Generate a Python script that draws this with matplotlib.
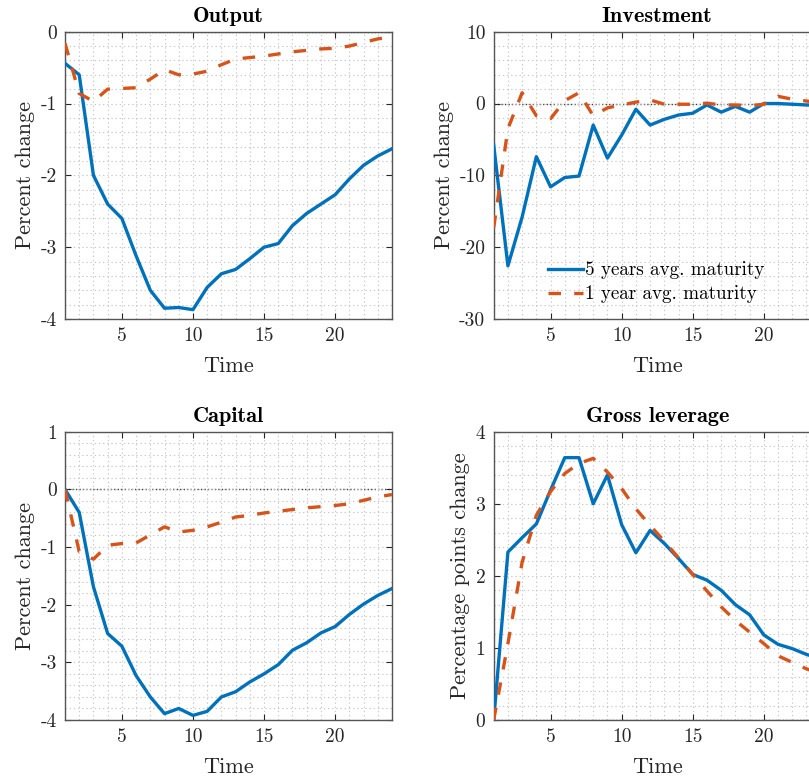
import numpy as np
import matplotlib
matplotlib.use("Agg")
import matplotlib.pyplot as plt
from matplotlib.ticker import MultipleLocator

plt.rcParams.update({
    "font.family": "serif",
    "font.serif": ["cmr10"],
    "axes.unicode_minus": False,
    "axes.formatter.use_mathtext": False,
    "mathtext.fontset": "cm",
    "lines.scale_dashes": False,
})

periods = list(range(1, 25))

output_5y = [-0.44, -0.60, -2.00, -2.40, -2.60, -3.12, -3.60, -3.85, -3.84, -3.87,
             -3.56, -3.37, -3.31, -3.16, -3.00, -2.95, -2.70, -2.53, -2.40, -2.27,
             -2.05, -1.86, -1.73, -1.63]
output_1y = [-0.16, -0.86, -0.97, -0.80, -0.79, -0.78, -0.66, -0.53, -0.60, -0.59,
             -0.55, -0.46, -0.38, -0.36, -0.34, -0.31, -0.28, -0.26, -0.24, -0.23,
             -0.20, -0.15, -0.10, -0.07]

invest_5y = [-5.8, -22.6, -15.8, -7.4, -11.6, -10.3, -10.1, -3.0, -7.6, -4.4,
             -0.8, -3.0, -2.2, -1.6, -1.35, -0.2, -1.2, -0.4, -1.2, 0.0,
             0.0, -0.1, -0.2, -0.25]
invest_1y = [-17.3, -3.5, 1.5, -1.7, -2.1, 0.4, 1.5, -1.7, -0.6, -0.2,
             0.2, 0.5, -0.1, -0.1, -0.1, 0.05, -0.2, -0.2, -0.3, -0.1,
             1.0, 0.6, 0.35, 0.1]

capital_5y = [0.0, -0.40, -1.69, -2.50, -2.72, -3.23, -3.60, -3.89, -3.80, -3.92,
              -3.85, -3.60, -3.51, -3.34, -3.20, -3.04, -2.79, -2.66, -2.49, -2.38,
              -2.17, -1.99, -1.84, -1.72]
capital_1y = [0.0, -1.08, -1.21, -0.97, -0.94, -0.93, -0.79, -0.65, -0.74, -0.71,
              -0.65, -0.57, -0.48, -0.45, -0.41, -0.38, -0.35, -0.32, -0.30, -0.28,
              -0.25, -0.19, -0.13, -0.09]

leverage_5y = [0.0, 2.33, 2.53, 2.72, 3.19, 3.64, 3.64, 3.00, 3.40, 2.71,
               2.32, 2.63, 2.45, 2.24, 2.02, 1.94, 1.80, 1.60, 1.46, 1.18,
               1.05, 0.99, 0.91, 0.85]
leverage_1y = [0.0, 1.06, 2.19, 2.84, 3.17, 3.42, 3.56, 3.63, 3.44, 3.21,
               2.93, 2.70, 2.48, 2.25, 2.02, 1.79, 1.57, 1.38, 1.22, 1.06,
               0.89, 0.80, 0.71, 0.64]

titles = ["Output", "Investment", "Capital", "Gross leverage"]
ylabels = ["Percent change", "Percent change", "Percent change", "Percentage points change"]
ylims = [(-4, 0), (-30, 10), (-4, 1), (0, 4)]
ymajor = [1, 10, 1, 1]
yminor = [0.2, 2, 0.2, 0.2]
series = [(output_5y, output_1y), (invest_5y, invest_1y),
          (capital_5y, capital_1y), (leverage_5y, leverage_1y)]
legend_labels = ["5 years avg. maturity", "1 year avg. maturity"]

BLUE = "#0072BD"
ORANGE = "#D95319"
TXT = "#262626"

W, H = 809, 778
fig = plt.figure(figsize=(W / 100, H / 100), dpi=100)

# panel boxes in pixel units: left, top, width, height
boxes = [(65, 31.7, 327, 287.3), (493.7, 31.7, 327, 287.3),
         (65, 431.7, 327, 288.3), (493.7, 431.7, 327, 288.3)]

for i, (l, t, w, h) in enumerate(boxes):
    ax = fig.add_axes([l / W, 1 - (t + h) / H, w / W, h / H])
    y5, y1 = series[i]
    ax.axhline(0, color="#404040", lw=1.0, ls=(0, (1, 1.5)), zorder=1)
    l5, = ax.plot(periods, y5, color=BLUE, lw=2.4, zorder=3)
    l1, = ax.plot(periods, y1, color=ORANGE, lw=2.4, ls=(0, (9, 9.5)), zorder=3)
    ax.set_xlim(1, 24)
    ax.set_ylim(*ylims[i])
    ax.xaxis.set_major_locator(MultipleLocator(5))
    ax.xaxis.set_minor_locator(MultipleLocator(1))
    ax.yaxis.set_major_locator(MultipleLocator(ymajor[i]))
    ax.yaxis.set_minor_locator(MultipleLocator(yminor[i]))
    ax.grid(which="both", color="#c8c8c8", lw=0.8, ls=(0, (1, 2)), zorder=0)
    ax.tick_params(which="major", direction="in", length=4, width=0.8, color=TXT,
                   top=True, right=True, labelsize=14, pad=6, labelcolor=TXT)
    ax.tick_params(which="minor", length=0, top=True, right=True)
    for s in ax.spines.values():
        s.set_color("#555555")
        s.set_linewidth(1.0)
    ax.set_title(titles[i], fontfamily="cmb10", fontsize=16, pad=7)
    ax.set_xlabel("Time", fontsize=16, labelpad=8, color=TXT)
    ax.set_ylabel(ylabels[i], fontsize=16, labelpad=4, color=TXT)
    if i == 1:
        ax.legend([l5, l1], legend_labels, loc="lower left",
                  bbox_to_anchor=(0.165, 0.055), frameon=False, fontsize=13.7,
                  handlelength=1.85, handletextpad=0.1, borderpad=0,
                  labelspacing=0.3, borderaxespad=0)

fig.savefig("out.png", dpi=100)
